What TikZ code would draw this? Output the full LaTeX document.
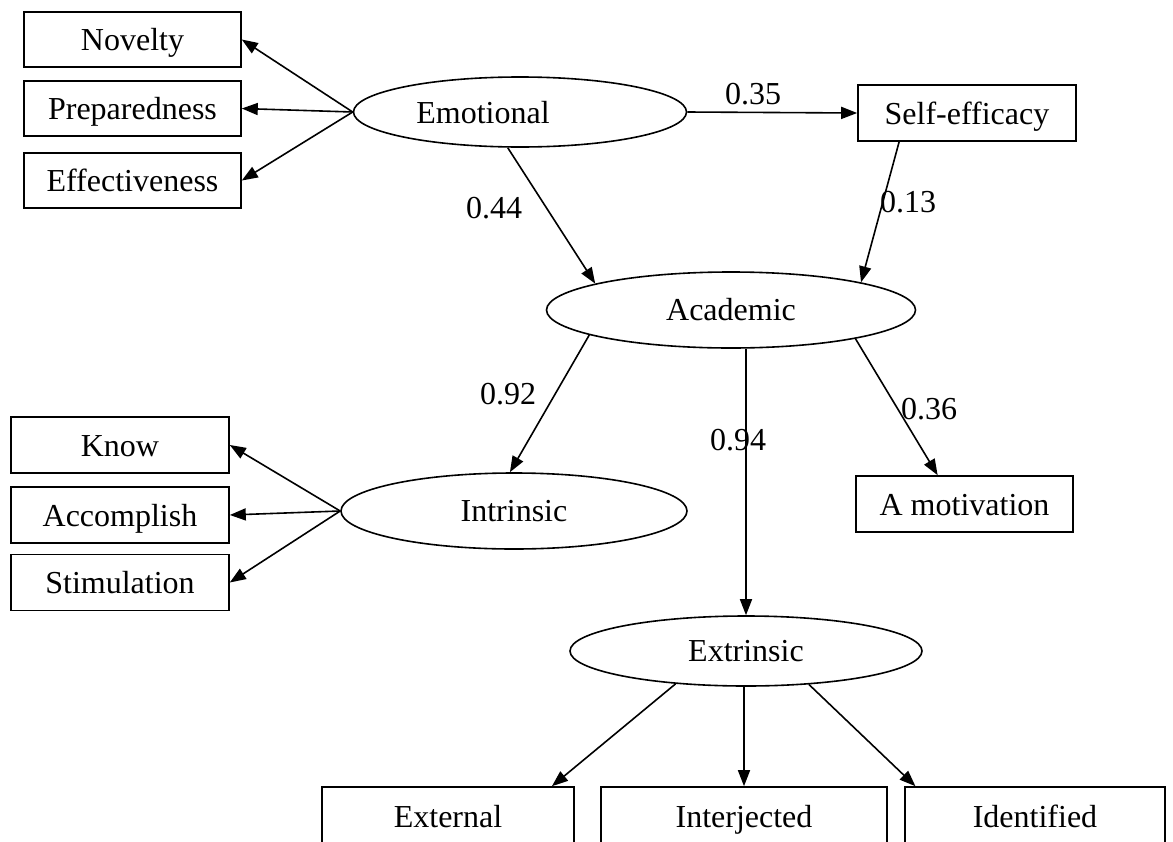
\documentclass[tikz,border=0pt]{standalone}
\usepackage{fontspec}
\setmainfont{Liberation Serif}
\usetikzlibrary{arrows.meta, positioning, calc, shapes}

\begin{document}
\begin{tikzpicture}[
            x=0.5pt,
            y=-0.5pt,
            >={Triangle[length=8pt, width=6pt]},
            font=\fontsize{16}{19}\selectfont,
            line width=0.8pt,
            obs/.style={draw, rectangle, inner sep=0pt, text height=12.5pt, text depth=1.5pt,
                        minimum width=108.5pt, minimum height=27.5pt},
            lat/.style={draw, ellipse, inner sep=0pt, text height=12pt, text depth=1.5pt}
            ]

            \path[use as bounding box, fill=white] (0,0) rectangle (1173,841);
            \clip (0,0) rectangle (1173,841);

            % Emotional
            \node[obs] (nov) at (132.5,39.5) {Novelty};
            \node[obs] (prep) at (132.5,108.5) {Preparedness};
            \node[obs] (eff) at (132.5,180.5) {Effectiveness};
            \node[lat, minimum width=166.5pt, minimum height=35pt,
                  label={[xshift=-18.5pt, yshift=-0.5pt]center:Emotional}] (emo) at (520,112) {};
            \node[obs, minimum width=109pt, minimum height=28pt] (self) at (967,113) {Self-efficacy};

            % Academic
            \node[lat, minimum width=184.5pt, minimum height=38pt] (acad) at (731,310) {Academic};
            \node[obs, minimum height=28pt] (amot) at (964.5,504) {A motivation};

            % Intrinsic
            \node[obs, minimum width=109pt, minimum height=28pt] (know) at (120,445) {Know};
            \node[obs, minimum width=109pt, minimum height=28pt] (acc) at (120,515) {Accomplish};
            \node[obs, minimum width=109pt, minimum height=28pt] (stim) at (120,582.5) {Stimulation};
            \node[lat, minimum width=173pt, minimum height=38pt] (intr) at (514,511) {Intrinsic};

            % Extrinsic
            \node[lat, minimum width=176pt, minimum height=35pt] (extr) at (746,651) {Extrinsic};
            \node[obs, minimum width=126pt, minimum height=29pt] (ext) at (448,816) {External};
            \node[obs, minimum width=143pt, minimum height=29pt] (inj) at (744,816) {Interjected};
            \node[obs, minimum width=130pt, minimum height=29pt] (ide) at (1035,816) {Identified};

            % 系数
            \node (w35) at (753,94) {0.35};
            \node (w44) at (494,208) {0.44};
            \node (w13) at (908,202) {0.13};
            \node (w92) at (508,394) {0.92};
            \node (w94) at (738,440) {0.94};
            \node (w36) at (929,409) {0.36};

            % 路径
            \draw[->] (emo.west) -- (nov.east);
            \draw[->] (emo.west) -- (prep.east);
            \draw[->] (emo.west) -- (eff.east);
            \draw[->] (emo.east) -- (self.west);
            \draw[->] (emo.251) -- (acad.169);
            \draw[->] (self.203) -- (acad.12);
            \draw[->] (acad.190) -- (intr.96);
            \draw[->] (acad.south -| extr.north) -- (extr.north);
            \draw[->] (acad.-13) -- (amot.133);
            \draw[->] (intr.west) -- (know.east);
            \draw[->] (intr.west) -- (acc.east);
            \draw[->] (intr.west) -- (stim.east);
            \draw[->] (extr.205) -- (ext.16);
            \draw[->] (inj.north |- extr.south) -- (inj.north);
            \draw[->] (extr.-28) -- (ide.166);
        \end{tikzpicture}
\end{document}
